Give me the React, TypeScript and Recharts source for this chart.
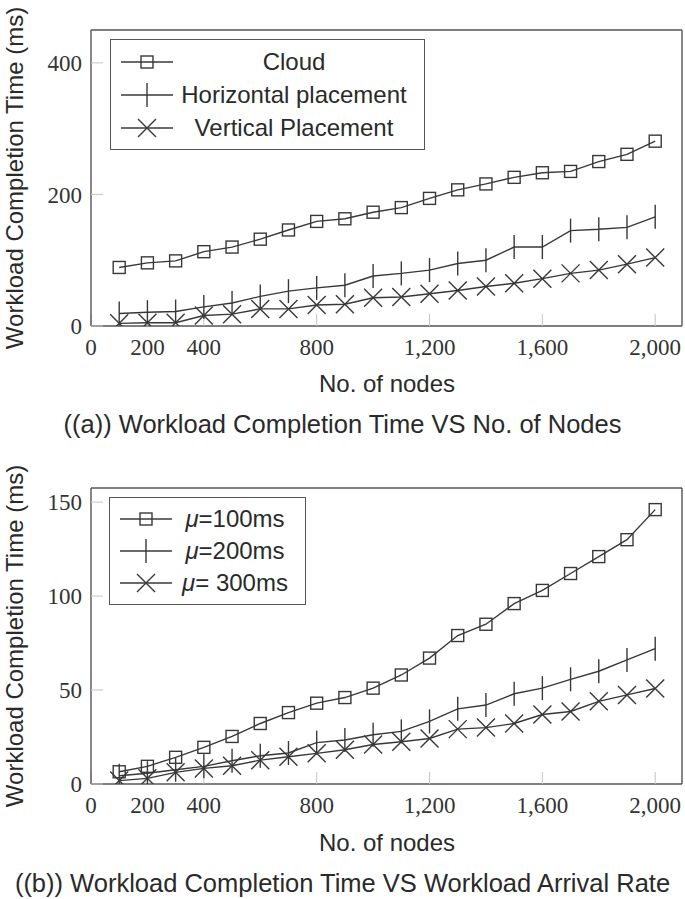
import React from 'react';
import { LineChart, Line, XAxis, YAxis } from 'recharts';

// ---- data ----
const nodes = [100, 200, 300, 400, 500, 600, 700, 800, 900, 1000, 1100, 1200, 1300, 1400, 1500, 1600, 1700, 1800, 1900, 2000];

// (a) Workload Completion Time VS No. of Nodes
const cloud = [89, 96, 99, 113, 120, 132, 146, 159, 163, 173, 180, 194, 207, 216, 226, 233, 235, 250, 261, 281];
const horizontal = [19, 21, 22, 29, 35, 45, 53, 58, 62, 76, 80, 85, 95, 100, 120, 120, 145, 147, 150, 166];
const vertical = [4, 5, 5, 16, 18, 26, 26, 32, 33, 43, 44, 49, 54, 60, 65, 72, 80, 85, 94, 104];

// (b) Workload Completion Time VS Workload Arrival Rate
const mu100 = [6.5, 9.4, 14.2, 19.5, 25.3, 32.2, 38, 43, 46, 51, 58, 67, 79, 85, 96, 103, 112, 121, 130, 146];
const mu200 = [4.4, 5.7, 7.6, 9.4, 12.4, 15, 16.5, 22, 23.4, 26.2, 28, 33.3, 40, 42, 48, 51, 55.7, 60, 66, 72];
const mu300 = [1.8, 3, 6.2, 8.3, 9.7, 12.7, 14.5, 16.3, 18.2, 21, 22.5, 24.2, 29.2, 30, 32.2, 37, 38.6, 44, 47.4, 50.8];

const xTicks = [0, 200, 400, 800, 1200, 1600, 2000];
const yTicksA = [0, 200, 400];
const yTicksB = [0, 50, 100, 150];

const legendA = ['Cloud', 'Horizontal placement', 'Vertical Placement'];
const xTitle = 'No. of nodes';
const yTitle = 'Workload Completion Time (ms)';
const captionA = '((a)) Workload Completion Time VS No. of Nodes';
const captionB = '((b)) Workload Completion Time VS Workload Arrival Rate';

const dataA = nodes.map((n, i) => ({ n, cloud: cloud[i], horizontal: horizontal[i], vertical: vertical[i] }));
const dataB = nodes.map((n, i) => ({ n, mu100: mu100[i], mu200: mu200[i], mu300: mu300[i] }));

// ---- styles ----
const INK = '#383838';
const FRAME = '#555';
const TICK = '#c4c4c4';
const SW = 1.4;
const SANS = '"Liberation Sans", Arial, sans-serif';
const SERIF = '"Liberation Serif", "Times New Roman", serif';
const X_DOMAIN: [number, number] = [0, 2095];

const fmt = (v: number) => v.toLocaleString('en-US');

const squareDot = (p: any) => (
  <rect key={`sq-${p.index}`} x={p.cx - 6} y={p.cy - 6} width={12} height={12} fill="none" stroke={INK} strokeWidth={SW} />
);
const barDot = (p: any) => (
  <line key={`bar-${p.index}`} x1={p.cx} x2={p.cx} y1={p.cy - 12} y2={p.cy + 12} stroke={INK} strokeWidth={SW} />
);
const crossDot = (p: any) => (
  <path
    key={`cr-${p.index}`}
    d={`M${p.cx - 9},${p.cy - 9}L${p.cx + 9},${p.cy + 9}M${p.cx - 9},${p.cy + 9}L${p.cx + 9},${p.cy - 9}`}
    stroke={INK}
    strokeWidth={SW}
    fill="none"
  />
);

function Marker({ kind }: { kind: 'square' | 'bar' | 'cross' }) {
  const cx = 36;
  const cy = 16;
  return (
    <svg width={64} height={32} style={{ display: 'block', flex: 'none' }}>
      <line x1={10} x2={62} y1={cy} y2={cy} stroke={INK} strokeWidth={SW} />
      {kind === 'square' && squareDot({ cx, cy, index: 0 })}
      {kind === 'bar' && barDot({ cx, cy, index: 0 })}
      {kind === 'cross' && crossDot({ cx, cy, index: 0 })}
    </svg>
  );
}

function LegendBox({ left, top, width, rowH, padR, items }: any) {
  return (
    <div
      style={{
        position: 'absolute',
        left,
        top,
        width,
        boxSizing: 'border-box',
        border: `1.4px solid ${FRAME}`,
        background: '#fff',
        padding: '5px 0',
        fontFamily: SANS,
        fontSize: 24,
        color: '#2a2a2a',
      }}
    >
      {items.map((it: any, i: number) => (
        <div key={i} style={{ display: 'flex', alignItems: 'center', height: rowH }}>
          <Marker kind={it.kind} />
          <div style={{ flex: 1, textAlign: 'center', paddingRight: padR, whiteSpace: 'nowrap' }}>{it.label}</div>
        </div>
      ))}
    </div>
  );
}

function frameAxes(yDomain: [number, number], yTicks: number[], xHeight: number) {
  return [
    <XAxis
      key="xb"
      dataKey="n"
      type="number"
      domain={X_DOMAIN}
      ticks={xTicks}
      interval={0}
      allowDataOverflow
      tickFormatter={fmt}
      height={xHeight}
      axisLine={{ stroke: FRAME, strokeWidth: 1.4 }}
      tickLine={{ stroke: TICK, strokeWidth: 1 }}
      tickSize={-12}
      tickMargin={25}
      tick={{ fontFamily: SERIF, fontSize: 23, fill: '#333' }}
    />,
    <XAxis
      key="xt"
      xAxisId="top"
      orientation="top"
      dataKey="n"
      type="number"
      domain={X_DOMAIN}
      ticks={xTicks}
      interval={0}
      allowDataOverflow
      height={1}
      axisLine={{ stroke: FRAME, strokeWidth: 1.4 }}
      tickLine={{ stroke: TICK, strokeWidth: 1 }}
      tickSize={-12}
      tick={false}
    />,
    <YAxis
      key="yl"
      type="number"
      domain={yDomain}
      ticks={yTicks}
      interval={0}
      allowDataOverflow
      width={91}
      axisLine={{ stroke: FRAME, strokeWidth: 1.4 }}
      tickLine={{ stroke: TICK, strokeWidth: 1 }}
      tickSize={-12}
      tickMargin={21}
      tick={{ fontFamily: SERIF, fontSize: 23, fill: '#333' }}
    />,
    <YAxis
      key="yr"
      yAxisId="right"
      orientation="right"
      type="number"
      domain={yDomain}
      ticks={yTicks}
      interval={0}
      allowDataOverflow
      width={1}
      axisLine={{ stroke: FRAME, strokeWidth: 1.4 }}
      tickLine={{ stroke: TICK, strokeWidth: 1 }}
      tickSize={-12}
      tick={false}
    />,
  ];
}

const textBase: React.CSSProperties = {
  position: 'absolute',
  fontFamily: SANS,
  fontSize: 24,
  lineHeight: '24px',
  color: '#2a2a2a',
  whiteSpace: 'nowrap',
};

function XTitle({ top }: { top: number }) {
  return <div style={{ ...textBase, left: 387, top, transform: 'translateX(-50%)' }}>{xTitle}</div>;
}
function YTitles({ centers }: { centers: number[] }) {
  return (
    <svg width={40} height={899} style={{ position: 'absolute', left: 0, top: 0, overflow: 'visible', pointerEvents: 'none' }}>
      {centers.map((cy, i) => (
        <text
          key={i}
          transform={`translate(22.5, ${cy}) rotate(-90)`}
          textAnchor="middle"
          fontFamily={SANS}
          fontSize={24}
          fill="#2a2a2a"
        >
          {yTitle}
        </text>
      ))}
    </svg>
  );
}
function Caption({ top, text }: { top: number; text: string }) {
  return (
    <div style={{ ...textBase, fontSize: 25.5, lineHeight: '25.5px', left: 0, width: 685, top, textAlign: 'center' }}>
      {text}
    </div>
  );
}

export default function App() {
  return (
    <div style={{ position: 'relative', width: 685, height: 899, background: '#fff', overflow: 'hidden' }}>
      <style>{`body{margin:0;overflow:hidden;background:#fff}`}</style>

      {/* chart (a) */}
      <div style={{ position: 'absolute', left: 0, top: 0 }}>
        <LineChart width={685} height={408} data={dataA} margin={{ top: 29, right: 2, bottom: 0, left: 0 }}>
          {frameAxes([0, 450], yTicksA, 82)}
          <Line dataKey="cloud" stroke={INK} strokeWidth={SW} dot={squareDot} isAnimationActive={false} />
          <Line dataKey="horizontal" stroke={INK} strokeWidth={SW} dot={barDot} isAnimationActive={false} />
          <Line dataKey="vertical" stroke={INK} strokeWidth={SW} dot={crossDot} isAnimationActive={false} />
        </LineChart>
      </div>
      <LegendBox
        left={110}
        top={39}
        width={315}
        rowH={33}
        padR={11}
        items={[
          { kind: 'square', label: legendA[0] },
          { kind: 'bar', label: legendA[1] },
          { kind: 'cross', label: legendA[2] },
        ]}
      />
      <XTitle top={372} />
      <Caption top={412} text={captionA} />

      {/* chart (b) */}
      <div style={{ position: 'absolute', left: 0, top: 460 }}>
        <LineChart width={685} height={400} data={dataB} margin={{ top: 27, right: 2, bottom: 0, left: 0 }}>
          {frameAxes([0, 157.5], yTicksB, 76)}
          <Line dataKey="mu100" stroke={INK} strokeWidth={SW} dot={squareDot} isAnimationActive={false} />
          <Line dataKey="mu200" stroke={INK} strokeWidth={SW} dot={barDot} isAnimationActive={false} />
          <Line dataKey="mu300" stroke={INK} strokeWidth={SW} dot={crossDot} isAnimationActive={false} />
        </LineChart>
      </div>
      <LegendBox
        left={109}
        top={497}
        width={197}
        rowH={32}
        padR={9}
        items={[
          { kind: 'square', label: <span><i>μ</i>=100ms</span> },
          { kind: 'bar', label: <span><i>μ</i>=200ms</span> },
          { kind: 'cross', label: <span><i>μ</i>= 300ms</span> },
        ]}
      />
      <XTitle top={831} />
      <Caption top={871} text={captionB} />

      <YTitles centers={[178, 636]} />
    </div>
  );
}
